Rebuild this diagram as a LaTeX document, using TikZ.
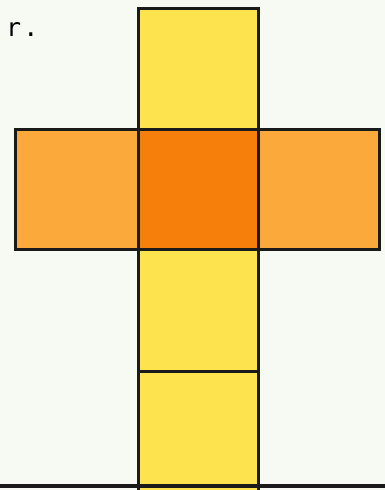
\documentclass[tikz,border=0pt]{standalone}
\usepackage{fontspec}
\newfontfamily\monofont{DejaVu Sans Mono}
\definecolor{bg}{HTML}{F7F9F3}
\definecolor{yel}{HTML}{FDE34E}
\definecolor{lor}{HTML}{FBA93A}
\definecolor{dor}{HTML}{F57F0A}
\definecolor{ink}{HTML}{1A1A1A}
\tikzset{
  face/.style={draw=ink, line width=3pt},
}
\begin{document}
\begin{tikzpicture}[x=1pt,y=-1pt]
\fill[bg] (0,0) rectangle (385,490);
\useasboundingbox (0,0) rectangle (385,490);
\node[anchor=base west, inner sep=0pt, font=\monofont\fontsize{25pt}{30pt}\selectfont] (t) at (6,36) {r\kern2pt.};
\draw[face, fill=yel] (138,8) rectangle (258,129);
\draw[face, fill=lor] (15,129) rectangle (138,249);
\draw[face, fill=lor] (258,129) rectangle (379,249);
\draw[face, fill=yel] (138,249) rectangle (258,371);
\draw[face, fill=yel] (138,371) rectangle (258,495);
\draw[face, fill=dor] (138,129) rectangle (258,249);
\draw[ink, line width=3.5pt] (0,486) -- (385,486);
\end{tikzpicture}
\end{document}
